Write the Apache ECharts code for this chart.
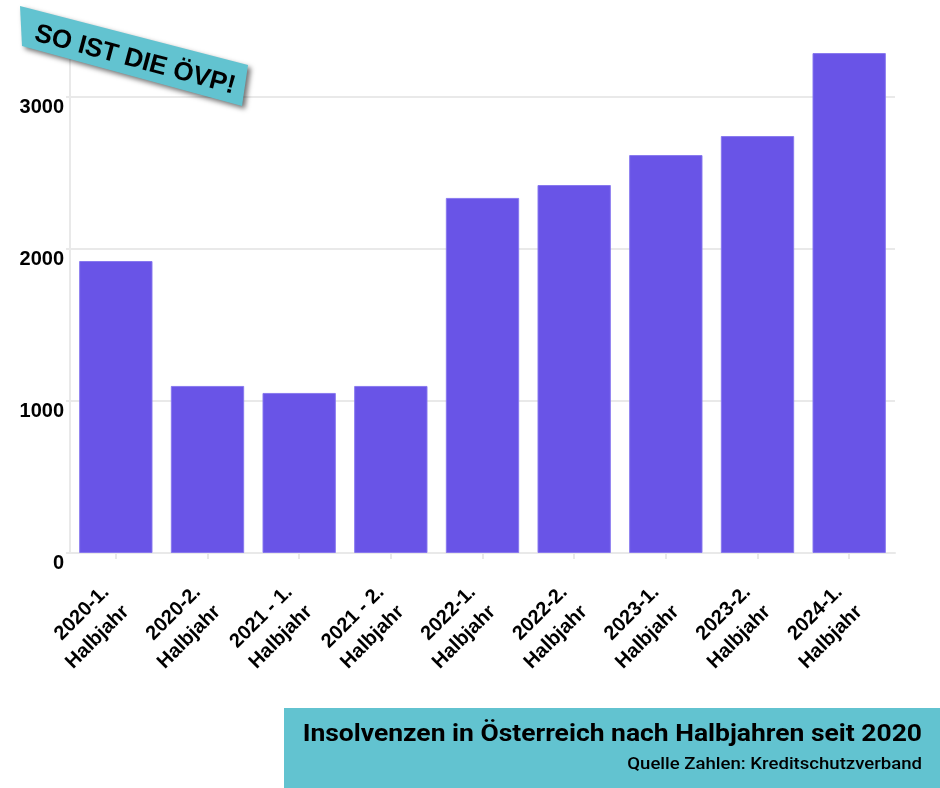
<!DOCTYPE html>
<html>
<head>
<meta charset="utf-8">
<script src="https://cdn.jsdelivr.net/npm/echarts@6/dist/echarts.min.js"></script>
<style>
html,body{margin:0;padding:0;background:#fff;}
#chart{width:940px;height:788px;}
</style>
</head>
<body>
<div id="chart"></div>
<script>
const categories = [
  "2020-1.\nHalbjahr", "2020-2.\nHalbjahr", "2021 - 1.\nHalbjahr", "2021 - 2.\nHalbjahr",
  "2022-1.\nHalbjahr", "2022-2.\nHalbjahr", "2023-1.\nHalbjahr", "2023-2.\nHalbjahr", "2024-1.\nHalbjahr"
];
const insolvenzen = [1921, 1099, 1053, 1099, 2336, 2421, 2618, 2743, 3289];
const yTicks = [0, 1000, 2000, 3000];
const titleText = "Insolvenzen in Österreich nach Halbjahren seit 2020";
const subtitleText = "Quelle Zahlen: Kreditschutzverband";
const stampText = "SO IST DIE ÖVP!";

const chart = echarts.init(document.getElementById('chart'), null, {renderer: 'canvas'});
const gridColor = '#e9e9e9';
chart.setOption({
  animation: false,
  backgroundColor: '#ffffff',
  grid: {left: 70, right: 45, top: 21, bottom: 235, containLabel: false},
  xAxis: {
    type: 'category',
    data: categories,
    axisLine: {show: true, lineStyle: {color: gridColor, width: 2}},
    axisTick: {show: true, alignWithLabel: true, length: 6, lineStyle: {color: gridColor, width: 2}},
    axisLabel: {
      rotate: 45, interval: 0, margin: 46,
      fontFamily: 'Liberation Sans, Arial, sans-serif', fontWeight: 'bold', fontSize: 20,
      lineHeight: 28, color: '#000'
    }
  },
  yAxis: {
    type: 'value', min: 0, max: 3500, interval: 1000,
    axisLine: {show: true, lineStyle: {color: gridColor, width: 2}},
    axisTick: {show: true, length: 4, lineStyle: {color: gridColor, width: 2}},
    splitLine: {show: true, lineStyle: {color: [gridColor, gridColor, gridColor, gridColor, 'rgba(0,0,0,0)'], width: 2}},
    axisLabel: {
      margin: 6, verticalAlign: 'top',
      fontFamily: 'Liberation Sans, Arial, sans-serif', fontWeight: 'bold', fontSize: 20, color: '#000',
      formatter: function (v) { return yTicks.indexOf(v) >= 0 ? String(v) : ''; }
    }
  },
  series: [{
    type: 'bar',
    data: insolvenzen,
    barCategoryGap: '20%',
    itemStyle: {color: '#634de6', opacity: 0.96, borderColor: '#8677ee', borderWidth: 1}
  }],
  graphic: [
    {
      type: 'rect', left: 284, top: 708, z: 10,
      shape: {width: 656, height: 80},
      style: {fill: '#62c3d0'}
    },
    {
      type: 'text', z: 11, x: 922, y: 735, scaleX: 1.15,
      style: {text: titleText, fill: '#000', font: 'bold 23px Roboto', align: 'right', verticalAlign: 'middle'}
    },
    {
      type: 'text', z: 11, x: 922, y: 765, scaleX: 1.16,
      style: {text: subtitleText, fill: '#000', font: '500 16px Roboto', align: 'right', verticalAlign: 'middle'}
    },
    {
      type: 'polygon', z: 20,
      shape: {points: [[20, 6], [248, 65], [242, 106], [22, 46]]},
      style: {fill: '#62c3d0', shadowBlur: 5, shadowOffsetX: 3, shadowOffsetY: 3, shadowColor: 'rgba(0,0,0,0.55)'}
    },
    {
      type: 'text', z: 21, x: 135, y: 60, rotation: -15 * Math.PI / 180,
      style: {text: stampText, fill: '#000', font: 'bold 26px "Liberation Sans", Arial', align: 'center', verticalAlign: 'middle'}
    }
  ]
});
</script>
</body>
</html>
